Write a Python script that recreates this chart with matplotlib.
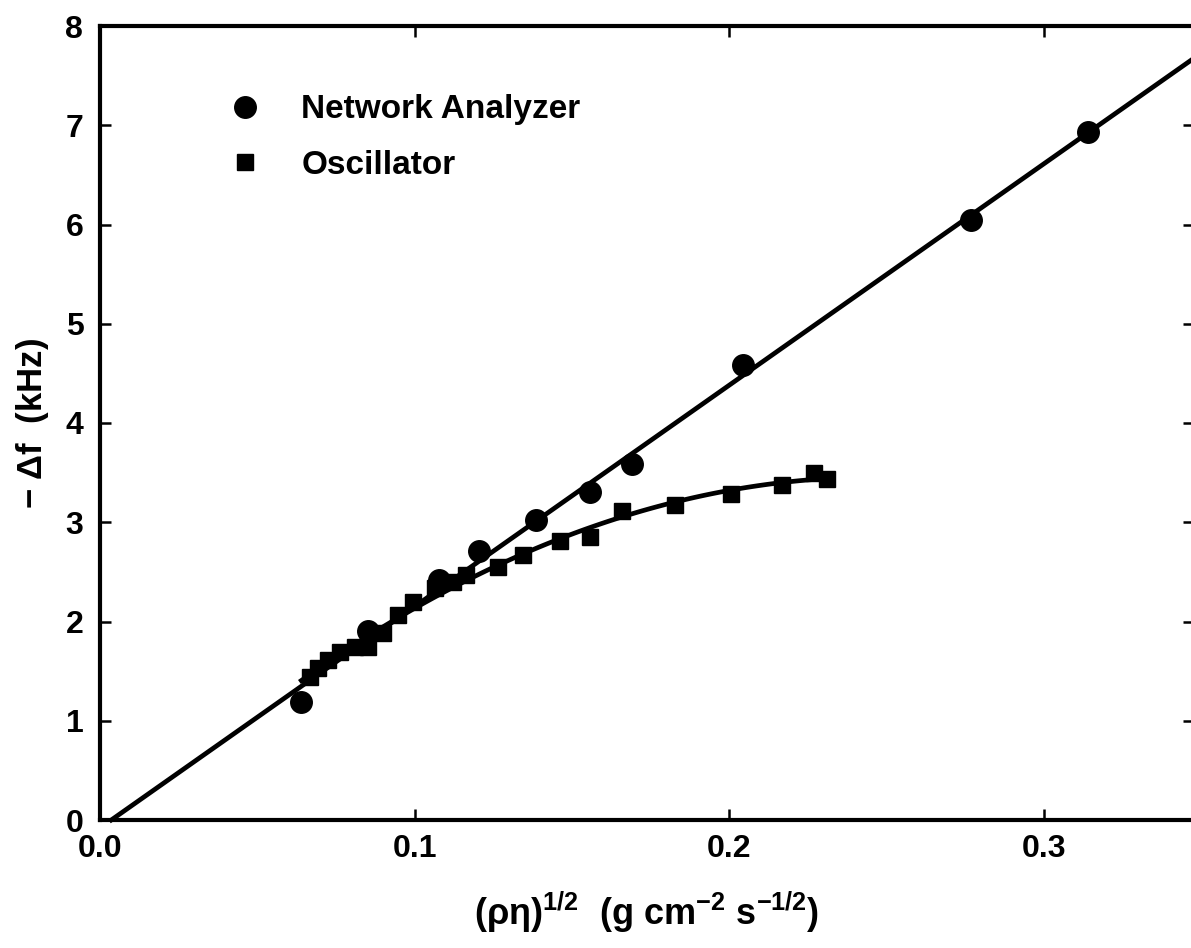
import numpy as np
import matplotlib
matplotlib.use("Agg")
import matplotlib.pyplot as plt
from matplotlib.lines import Line2D

plt.rcParams["font.family"] = ["Liberation Sans", "DejaVu Sans"]
plt.rcParams["font.weight"] = "bold"
plt.rcParams["mathtext.fontset"] = "custom"
plt.rcParams["mathtext.rm"] = "Liberation Sans:bold"
plt.rcParams["mathtext.bf"] = "Liberation Sans:bold"
plt.rcParams["mathtext.default"] = "bf"

# Network analyzer points
na_x = [0.0639, 0.0852, 0.1078, 0.1205, 0.1386, 0.1558, 0.1692, 0.2045, 0.277, 0.314]
na_y = [1.19, 1.90, 2.42, 2.71, 3.02, 3.30, 3.59, 4.58, 6.05, 6.93]

# Oscillator points
osc_x = [0.0668, 0.0693, 0.0725, 0.0763, 0.0811, 0.0852, 0.0900, 0.0948, 0.0995,
         0.1065, 0.1122, 0.1164, 0.1266, 0.1345, 0.1463, 0.1558, 0.1660, 0.1828,
         0.2006, 0.2169, 0.2270, 0.2312]
osc_y = [1.44, 1.53, 1.61, 1.69, 1.74, 1.74, 1.88, 2.07, 2.20,
         2.34, 2.40, 2.47, 2.55, 2.67, 2.81, 2.85, 3.11, 3.17,
         3.28, 3.38, 3.50, 3.44]

# straight fit for network analyzer data
na_slope = 22.3
na_intercept = -0.08
na_fit_range = (0.0036, 0.36)

# curved fit for oscillator data
osc_fit_range = (0.064, 0.229)

fig = plt.figure(figsize=(11.91, 9.48), dpi=100)
ax = fig.add_axes([100 / 1191, 1 - 820 / 948, 1094 / 1191, 794 / 948])

lx = np.linspace(*na_fit_range, 50)
ax.plot(lx, na_slope * lx + na_intercept, color="black", lw=3.4, clip_on=False, zorder=2)

coef = np.polyfit(osc_x, osc_y, 2)
cx = np.linspace(*osc_fit_range, 100)
ax.plot(cx, np.polyval(coef, cx), color="black", lw=3.4, zorder=2)

ax.plot(na_x, na_y, "o", color="black", ms=15.5, zorder=3)
ax.plot(osc_x, osc_y, "s", color="black", ms=12, zorder=3)

ax.set_xlim(0, 0.3478)
ax.set_ylim(0, 8)
ax.set_xticks([0.0, 0.1, 0.2, 0.3])
ax.set_xticklabels(["0.0", "0.1", "0.2", "0.3"])
ax.set_yticks(range(0, 9))

for s in ax.spines.values():
    s.set_linewidth(3)
ax.tick_params(direction="in", length=8, width=1.8, labelsize=23,
               top=True, right=True)
ax.tick_params(axis="x", pad=10)
ax.tick_params(axis="y", pad=12)

ax.set_xlabel("(ρη)$^{1/2}$  (g cm$^{-2}$ s$^{-1/2}$)", fontsize=26, fontweight="bold")
ax.set_ylabel("$-$ Δf  (kHz)", fontsize=25, fontweight="bold")
ax.xaxis.set_label_coords(0.5, -0.088)
ax.xaxis.label.set_va("top")
ax.yaxis.set_label_coords(-0.045, 0.5)

handles = [
    Line2D([], [], ls="none", marker="o", color="black", ms=15.5),
    Line2D([], [], ls="none", marker="s", color="black", ms=12),
]
ax.legend(handles, ["Network Analyzer", "Oscillator"], loc="upper left",
          bbox_to_anchor=(0.117, 0.914), frameon=False, fontsize=24,
          handlelength=1.0, handletextpad=1.2, labelspacing=0.73,
          borderpad=0, borderaxespad=0)

fig.savefig("out.png", dpi=100)
